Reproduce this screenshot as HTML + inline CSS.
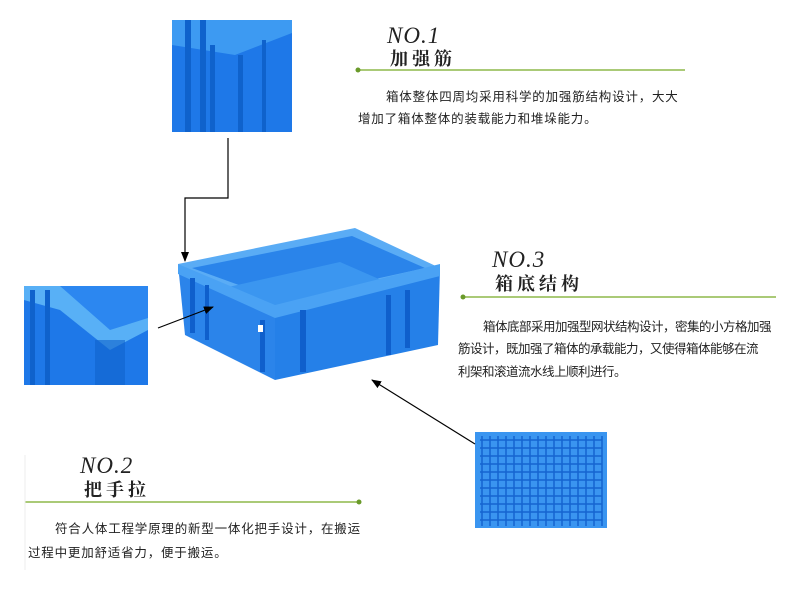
<!DOCTYPE html>
<html><head><meta charset="utf-8"><style>
body{margin:0;background:#fff;width:800px;height:602px;overflow:hidden;position:relative;font-family:"Liberation Sans","Noto Sans CJK SC",sans-serif}
.t{position:absolute;font-size:12.5px;color:#222;white-space:nowrap}
.a{letter-spacing:0.8px}.b{letter-spacing:-0.5px}
.no{position:absolute;font-family:"Liberation Serif",serif;font-style:italic;font-size:23px;color:#222;letter-spacing:1px}
.h{position:absolute;font-family:"Liberation Serif","Noto Serif CJK SC",serif;font-size:18px;font-weight:bold;color:#222;letter-spacing:4px}
</style></head><body>
<svg width="800" height="602" style="position:absolute;left:0;top:0">
<defs><marker id="a" markerWidth="10" markerHeight="10" refX="9" refY="5" orient="auto" markerUnits="userSpaceOnUse"><path d="M0,1 L10,5 L0,9 Z" fill="#000"/></marker></defs>
<rect x="172" y="20" width="120" height="112" fill="#1e78e8"/>
<polygon points="172,20 292,20 292,33 235,55 172,45" fill="#3d9af2"/>
<rect x="185" y="20" width="6" height="112" fill="#0f62cc"/>
<rect x="200" y="20" width="6" height="112" fill="#0f62cc"/>
<rect x="210" y="45" width="5" height="87" fill="#0f62cc"/>
<rect x="238" y="55" width="5" height="77" fill="#0f62cc"/>
<rect x="262" y="40" width="4" height="92" fill="#0f62cc"/>
<rect x="24" y="286" width="124" height="99" fill="#1e78e8"/>
<polygon points="60,286 148,286 148,320 110,335 60,300" fill="#2c87f0"/>
<polygon points="24,286 60,286 110,330 148,318 148,330 110,350 60,310 24,300" fill="#58b0f6"/>
<rect x="30" y="290" width="5" height="95" fill="#0f62cc"/>
<rect x="45" y="290" width="5" height="95" fill="#0f62cc"/>
<rect x="95" y="340" width="30" height="45" fill="#0f62cc" opacity=".6"/>
<rect x="475" y="432" width="132" height="96" fill="#3a95f0"/>
<g stroke="#1565d0" stroke-width="1.5">
<path d="M480,440H602M480,448H602M480,456H602M480,464H602M480,472H602M480,480H602M480,488H602M480,496H602M480,504H602M480,512H602M480,520H602"/>
<path d="M482,436V526M490,436V526M498,436V526M506,436V526M514,436V526M522,436V526M530,436V526M538,436V526M546,436V526M554,436V526M562,436V526M570,436V526M578,436V526M586,436V526M594,436V526M602,436V526"/>
</g>
<polygon points="178,264 355,228 440,268 275,310" fill="#5aacf5"/>
<polygon points="192,268 352,236 425,268 280,300" fill="#2a84ea"/>
<polygon points="215,290 340,262 395,286 285,316" fill="#3b96f0"/>
<polygon points="178,264 275,310 275,380 185,335" fill="#2b84ea"/>
<polygon points="275,310 440,268 438,345 275,380" fill="#2580e8"/>
<polygon points="178,264 275,305 440,264 440,276 275,318 178,274" fill="#4aa2f4"/>
<g fill="#0f5fcc"><rect x="190" y="278" width="5" height="55"/><rect x="205" y="285" width="4" height="55"/><rect x="260" y="320" width="5" height="52"/><rect x="300" y="310" width="6" height="62"/><rect x="386" y="295" width="5" height="60"/><rect x="405" y="290" width="5" height="58"/></g>
<rect x="258" y="325" width="5" height="7" fill="#fff"/>
<polyline points="228,138 228,198 185,198 185,261" fill="none" stroke="#000" stroke-width="1.2" marker-end="url(#a)"/>
<line x1="158" y1="328" x2="213" y2="307" stroke="#000" stroke-width="1.2" marker-end="url(#a)"/>
<line x1="475" y1="444" x2="372" y2="380" stroke="#000" stroke-width="1.2" marker-end="url(#a)"/>
<line x1="357" y1="70" x2="685" y2="70" stroke="#8db84a" stroke-width="1.5"/><circle cx="358" cy="70" r="2.5" fill="#6a9a2a"/>
<line x1="462" y1="297" x2="776" y2="297" stroke="#8db84a" stroke-width="1.5"/><circle cx="463" cy="297" r="2.5" fill="#6a9a2a"/>
<line x1="25" y1="502" x2="360" y2="502" stroke="#8db84a" stroke-width="1.5"/><circle cx="359" cy="502" r="2.5" fill="#6a9a2a"/>
<line x1="25" y1="455" x2="25" y2="570" stroke="#eee" stroke-width="1"/>
</svg>
<div class="no" style="left:387px;top:23px">NO.1</div>
<div class="h" style="left:390px;top:45px">加强筋</div>
<div class="t a" style="left:386px;top:86px">箱体整体四周均采用科学的加强筋结构设计，大大</div>
<div class="t a" style="left:358px;top:108px">增加了箱体整体的装载能力和堆垛能力。</div>
<div class="no" style="left:492px;top:247px">NO.3</div>
<div class="h" style="left:495px;top:270px">箱底结构</div>
<div class="t b" style="left:483px;top:316px">箱体底部采用加强型网状结构设计，密集的小方格加强</div>
<div class="t b" style="left:458px;top:338px">筋设计，既加强了箱体的承载能力，又使得箱体能够在流</div>
<div class="t b" style="left:458px;top:361px">利架和滚道流水线上顺利进行。</div>
<div class="no" style="left:80px;top:453px">NO.2</div>
<div class="h" style="left:84px;top:476px">把手拉</div>
<div class="t a" style="left:55px;top:518px">符合人体工程学原理的新型一体化把手设计，在搬运</div>
<div class="t a" style="left:28px;top:542px">过程中更加舒适省力，便于搬运。</div>
</body></html>
